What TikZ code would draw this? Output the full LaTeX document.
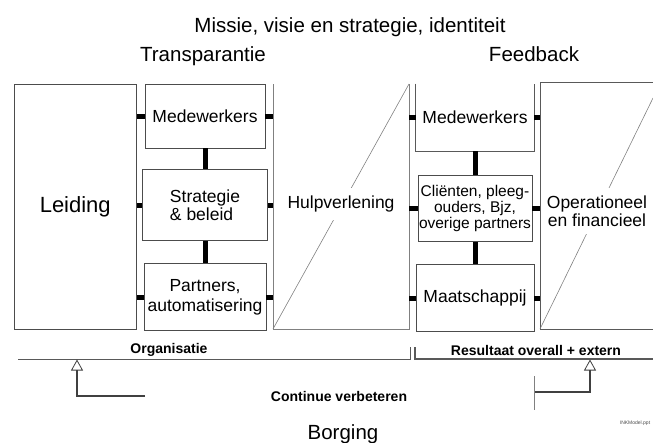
\documentclass[tikz,border=0pt]{standalone}
\usepackage{fontspec}
\setmainfont{Liberation Sans}
\usetikzlibrary{positioning, arrows.meta}

\begin{document}
\begin{tikzpicture}[x=1pt, y=-1pt, line width=0.8pt,
    box/.style={draw=black!70, inner sep=0pt, align=center, font=\fontsize{17.5}{18}\selectfont},
    frame/.style={draw=black!65},
    thin line/.style={draw=black!50, line width=0.6pt},
    tick/.style={line width=5pt},
    title/.style={anchor=base, font=\fontsize{20.5}{24}\selectfont},
    bottom label/.style={font=\bfseries\fontsize{14}{16}\selectfont},
    cut label/.style={fill=white, inner xsep=2pt, inner ysep=8pt, align=center, font=\fontsize{17.5}{18}\selectfont},
    loop line/.style={draw=black!75, line width=2pt, -{Triangle[open, width=12pt, length=11pt, line width=0.8pt]}}]
    \useasboundingbox (0,0) rectangle (653,442);

    % titles
    \node[title] (missie) at (350,32) {Missie, visie en strategie, identiteit};
    \node[title] (transp) at (203,61) {Transparantie};
    \node[title] (feedb) at (534,61) {Feedback};

    % organisatie
    \node[box, minimum width=122.5pt, minimum height=245pt, font=\fontsize{22}{24}\selectfont] (leiding) at (75.25,206.5) {Leiding};
    \node[box, minimum width=120pt, minimum height=64pt] (med1) at (205,116) {Medewerkers};
    \node[box, minimum width=125pt, minimum height=71pt, below=21pt of med1, align=left] (strat) {Strategie\\\& beleid};
    \node[box, minimum width=122pt, minimum height=67pt, below=22pt of strat, font=\fontsize{17.5}{20}\selectfont] (partn) {Partners,\\automatisering};

    \coordinate (hulp-nw) at (273,84);
    \coordinate (hulp-sw) at (273,329);
    \coordinate (hulp-se) at (409,329);
    \coordinate (hulp-ne) at (409,84);
    \draw[thin line] (hulp-nw) -- (hulp-sw) -- (hulp-se) -- (hulp-ne);
    \draw[thin line] (hulp-sw) -- (hulp-ne);
    \node[cut label] (hulp) at (341,204) {Hulpverlening};

    % resultaat
    \node[box, draw=none, minimum width=118pt, minimum height=67pt] (med2) at (475,117.5) {Medewerkers};
    \draw[frame] (med2.north west) -- (med2.south west) -- (med2.south east) -- (med2.north east);
    \node[box, minimum width=114pt, minimum height=66pt, below=24pt of med2, font=\fontsize{15.5}{16}\selectfont] (client) {Cliënten, pleeg-\\ouders, Bjz,\\overige partners};
    \node[box, minimum width=118pt, minimum height=67pt, below=22pt of client] (maats) {Maatschappij};

    \coordinate (oper-nw) at (540,82);
    \coordinate (oper-sw) at (540,329);
    \coordinate (oper-ne) at (653,82);
    \coordinate (oper-se) at (653,329);
    \coordinate (oper-d) at (653,98);
    \draw[frame] (oper-ne) -- (oper-nw) -- (oper-sw) -- (oper-se);
    \draw[thin line] (oper-sw) -- (oper-d);
    \node[cut label] (oper) at (597,211) {Operationeel\\en financieel};

    % links
    \draw[tick] (med1) -- (strat);
    \draw[tick] (strat) -- (partn);
    \draw[tick] (med2) -- (client);
    \draw[tick] (client) -- (maats);
    \foreach \n in {med1, strat, partn} {
        \draw[tick] (\n.west -| leiding.east) -- (\n.west);
        \draw[tick] (\n.east) -- (\n.east -| hulp-nw);
    }
    \foreach \n in {med2, client, maats} {
        \draw[tick] (\n.west -| hulp-ne) -- (\n.west);
        \draw[tick] (\n.east) -- (\n.east -| oper-nw);
    }

    % borging
    \coordinate (org-w) at (18,359);
    \coordinate (org-e) at (410,359);
    \coordinate (org-t) at (410,347);
    \draw[frame] (org-w) -- (org-e) -- (org-t);
    \node[bottom label] (org) at (169,350) {Organisatie};
    \coordinate (res-t) at (415,347);
    \coordinate (res-w) at (415,359);
    \coordinate (res-e) at (653,359);
    \draw[frame, line width=1.4pt] (res-t) -- (res-w) -- (res-e);
    \node[bottom label] (res) at (536,350) {Resultaat overall + extern};

    \node[bottom label] (cv) at (339,396) {Continue verbeteren};
    \coordinate (cv-l) at (145,396);
    \coordinate (org-arrow) at (77,359.5);
    \draw[loop line] (cv-l) -| (org-arrow);
    \coordinate (cv-r) at (534,392);
    \coordinate (res-arrow) at (590,359.5);
    \draw[loop line] (cv-r) -| (res-arrow);
    \draw[thin line] ([yshift=16pt]cv-r) -- ([yshift=-18pt]cv-r);

    \node[title] (borging) at (343,439) {Borging};
    \node[font=\fontsize{5}{6}\selectfont, text=black!70] (ink) at (635,423) {INKModel.ppt};
\end{tikzpicture}
\end{document}
